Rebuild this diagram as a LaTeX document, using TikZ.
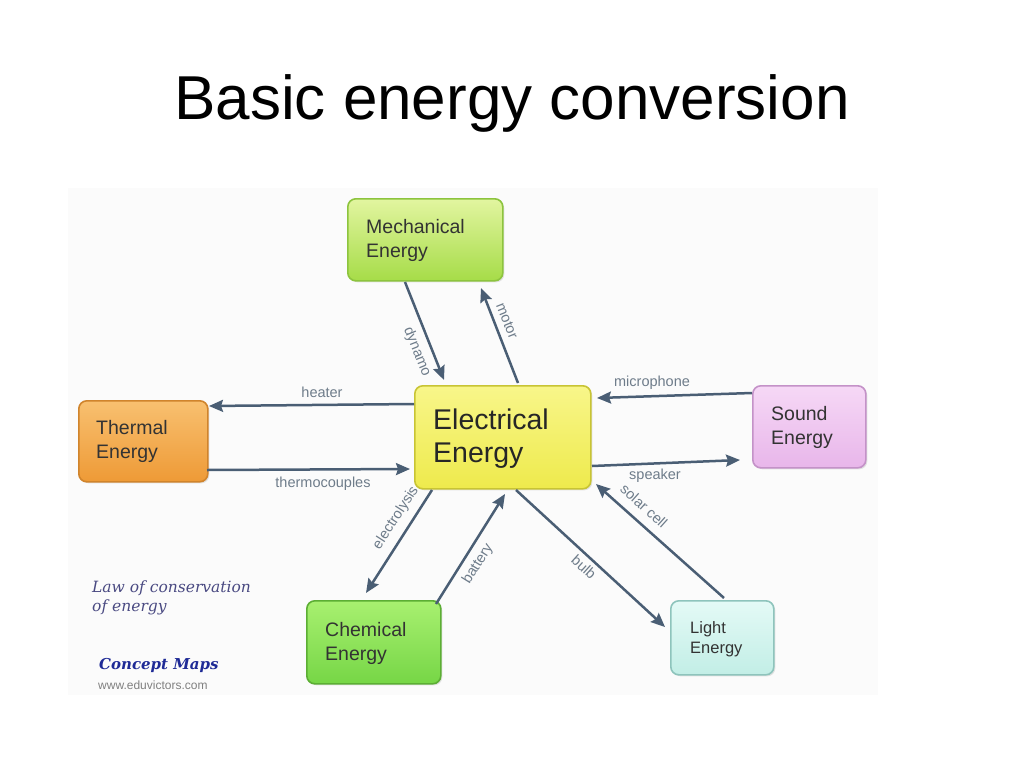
\documentclass[tikz,border=0pt]{standalone}
\usepackage{fontspec}
\setmainfont{Liberation Sans}
\newfontfamily\handfont{DejaVu Serif}
\usetikzlibrary{arrows.meta,shadows}
\definecolor{arrowc}{HTML}{4A5E74}
\definecolor{labelc}{HTML}{6E7C8A}
\definecolor{textc}{HTML}{333333}
\definecolor{mechD}{HTML}{8DC43E}\definecolor{mechT}{HTML}{E2F5A0}\definecolor{mechB}{HTML}{A6DC48}
\definecolor{elecD}{HTML}{C8C434}\definecolor{elecT}{HTML}{F8F68A}\definecolor{elecB}{HTML}{EEEA4C}
\definecolor{therD}{HTML}{D0842C}\definecolor{therT}{HTML}{F8C070}\definecolor{therB}{HTML}{EE9A36}
\definecolor{sndD}{HTML}{C492C8}\definecolor{sndT}{HTML}{F6D8F6}\definecolor{sndB}{HTML}{E8B6EA}
\definecolor{chemD}{HTML}{5CAE34}\definecolor{chemT}{HTML}{A8F070}\definecolor{chemB}{HTML}{76D646}
\definecolor{ligD}{HTML}{8EC4BC}\definecolor{ligT}{HTML}{E4FAF6}\definecolor{ligB}{HTML}{C2EEE6}
\definecolor{handc}{HTML}{4A4A82}
\definecolor{cmapc}{HTML}{1E2A96}
\tikzset{
  every node/.style={inner sep=0pt},
  ebox/.style={rounded corners=8pt, line width=1.6pt, anchor=north west,
     drop shadow={opacity=0.2,shadow xshift=1.5pt,shadow yshift=-1.5pt}},
  btext/.style={align=left, anchor=north west, text=textc, font=\fontsize{19.5}{23.5}\selectfont},
  conn/.style={draw=arrowc, line width=2.5pt, -{Stealth[length=14pt,width=12pt,inset=2pt]}},
  lab/.style={text=labelc, font=\fontsize{14.5}{16}\selectfont},
}
\begin{document}
\begin{tikzpicture}[x=1pt,y=-1pt]
\useasboundingbox (0,0) rectangle (1024,768);
\fill[white] (0,0) rectangle (1024,768);
\fill[black!1.5] (68,188) rectangle (878,695);
\node[font=\fontsize{62}{70}\selectfont, anchor=base] (title) at (512,119) {Basic energy conversion};
% boxes
\node[ebox, draw=mechD, top color=mechT, bottom color=mechB, minimum width=155pt, minimum height=82pt] (mech) at (347,198) {};
\node[btext] (mecht) at (366,219.5) {Mechanical\\Energy};
\node[ebox, draw=elecD, top color=elecT, bottom color=elecB, minimum width=176pt, minimum height=103pt] (elec) at (414,385) {};
\node[btext, font=\fontsize{28.5}{33}\selectfont, text=black!85] (elect) at (433,409) {Electrical\\Energy};
\node[ebox, draw=therD, top color=therT, bottom color=therB, minimum width=129pt, minimum height=81pt] (ther) at (78,400) {};
\node[btext] (thert) at (96,420.5) {Thermal\\Energy};
\node[ebox, draw=sndD, top color=sndT, bottom color=sndB, minimum width=113pt, minimum height=82pt] (snd) at (752,385) {};
\node[btext] (sndt) at (771,406.5) {Sound\\Energy};
\node[ebox, draw=chemD, top color=chemT, bottom color=chemB, minimum width=134pt, minimum height=83pt] (chem) at (306,600) {};
\node[btext] (chemt) at (325,622.5) {Chemical\\Energy};
\node[ebox, draw=ligD, top color=ligT, bottom color=ligB, minimum width=103pt, minimum height=74pt] (lig) at (670,600) {};
\node[btext, font=\fontsize{16.5}{20}\selectfont] (ligt) at (690,621.5) {Light\\Energy};
% connector end points
\coordinate (dy1) at (405,282); \coordinate (dy2) at (444,380);
\coordinate (mo1) at (518,383); \coordinate (mo2) at (481,288);
\coordinate (he1) at (414,404); \coordinate (he2) at (209,406);
\coordinate (th1) at (207,470); \coordinate (th2) at (410,469);
\coordinate (mi1) at (752,393); \coordinate (mi2) at (597,398);
\coordinate (sp1) at (592,466); \coordinate (sp2) at (740,460);
\coordinate (so1) at (724,598); \coordinate (so2) at (596,484);
\coordinate (bu1) at (516,490); \coordinate (bu2) at (665,627);
\coordinate (el1) at (432,490); \coordinate (el2) at (366,593);
\coordinate (ba1) at (436,604); \coordinate (ba2) at (505,494);
\draw[conn] (dy1) -- (dy2);
\draw[conn] (mo1) -- (mo2);
\draw[conn] (he1) -- (he2);
\draw[conn] (th1) -- (th2);
\draw[conn] (mi1) -- (mi2);
\draw[conn] (sp1) -- (sp2);
\draw[conn] (so1) -- (so2);
\draw[conn] (bu1) -- (bu2);
\draw[conn] (el1) -- (el2);
\draw[conn] (ba1) -- (ba2);
% labels
\node[lab, rotate=-68] (ldy) at (417,352) {dynamo};
\node[lab, rotate=-68] (lmo) at (507,321) {motor};
\node[lab] (lhe) at (322,392) {heater};
\node[lab] (lth) at (323,484) {thermocouples};
\node[lab] (lmi) at (652,383) {microphone};
\node[lab] (lsp) at (655,476) {speaker};
\node[lab, rotate=-42] (lso) at (644,506) {solar cell};
\node[lab, rotate=-42] (lbu) at (584,567) {bulb};
\node[lab, rotate=57] (lel) at (396,518) {electrolysis};
\node[lab, rotate=58] (lba) at (478,564) {battery};
% notes
\node[anchor=north west, align=left, text=handc, font=\handfont\itshape\fontsize{15.5}{19}\selectfont] (law) at (92,581) {Law of conservation\\of energy};
\node[anchor=north west, text=cmapc, font=\handfont\bfseries\itshape\fontsize{15}{17}\selectfont] (cm) at (99,658) {Concept Maps};
\node[anchor=north west, text=black!50, font=\fontsize{12}{13}\selectfont] (www) at (98,681) {www.eduvictors.com};
\end{tikzpicture}
\end{document}
